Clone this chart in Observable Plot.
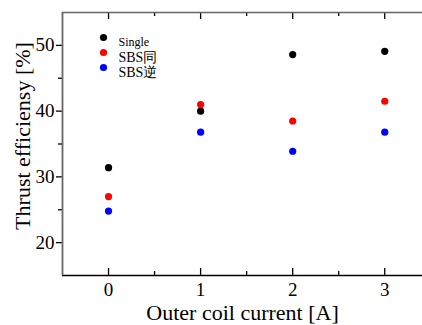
<!DOCTYPE html>
<html><head><meta charset="utf-8">
<script src="https://cdn.jsdelivr.net/npm/d3@7"></script>
<script src="https://cdn.jsdelivr.net/npm/@observablehq/plot@0.6"></script>
<style>body{margin:0;background:#fff}</style>
</head><body><div id="chart"></div>
<script>
const currents = [0, 1, 2, 3];
const seriesNames = ["Single", "SBS同", "SBS逆"];
const single = [31.4, 40.0, 48.6, 49.1];
const sbsSame = [27.0, 41.0, 38.5, 41.5];
const sbsReverse = [24.8, 36.8, 33.9, 36.8];
const seriesColors = ["#000000", "#ff0000", "#0000ff"];
const xMajor = [0, 1, 2, 3];
const xMinor = [0.5, 1.5, 2.5];
const yMajor = [20, 30, 40, 50];
const yMinor = [25, 35, 45];
const xLabel = "Outer coil current [A]";
const yLabel = "Thrust efficiensy [%]";

const values = [single, sbsSame, sbsReverse];
const data = [];
seriesNames.forEach((s, i) => currents.forEach((c, j) => data.push({series: s, x: c, y: values[i][j]})));

const W = 422, H = 325, mL = 62, mT = 12, mB = 50, mR = 0;
const xDom = [-0.5, 3.41], yDom = [15, 55];
const fw = W - mL - mR, fh = H - mT - mB;
const ux = (xDom[1] - xDom[0]) / fw;  // data units per pixel
const uy = (yDom[1] - yDom[0]) / fh;
const font = "'Liberation Serif', 'Times New Roman', serif";
const legendMarks = seriesNames.flatMap((s, i) => [
  Plot.dot([s], {frameAnchor: "top-left", dx: 41, dy: 25 + 15 * i, r: 3.6, fill: seriesColors[i]}),
  Plot.text([s], {frameAnchor: "top-left", dx: 56, dy: 25 + 15 * i, text: d => d, textAnchor: "start",
    fontSize: i === 0 ? 12 : 14, fill: "#000", fontFamily: font})
]);
const tickStyle = {stroke: "#000", strokeWidth: 1.3};

const chart = Plot.plot({
  width: W, height: H,
  marginLeft: mL, marginTop: mT, marginBottom: mB, marginRight: mR,
  style: {fontFamily: font, background: "#fff", color: "#000"},
  x: {domain: xDom},
  y: {domain: yDom},
  color: {domain: seriesNames, range: seriesColors},
  marks: [
    Plot.axisX({anchor: "bottom", ticks: xMajor, tickSize: 0, tickPadding: 7, fontSize: 19,
      tickFormat: d => String(d), label: null}),
    Plot.axisY({anchor: "left", ticks: yMajor, tickSize: 0, tickPadding: 8, fontSize: 19,
      label: null}),
    // inward ticks on bottom and top, outward ticks on left
    Plot.ruleX(xMajor, {y1: yDom[0], y2: yDom[0] + 7 * uy, ...tickStyle}),
    Plot.ruleX(xMinor, {y1: yDom[0], y2: yDom[0] + 4 * uy, ...tickStyle}),
    Plot.ruleX(xMajor, {y1: yDom[1], y2: yDom[1] - 7 * uy, ...tickStyle}),
    Plot.ruleX(xMinor, {y1: yDom[1], y2: yDom[1] - 4 * uy, ...tickStyle}),
    Plot.ruleY(yMajor, {x1: xDom[0] - 6 * ux, x2: xDom[0], ...tickStyle}),
    Plot.ruleY(yMinor, {x1: xDom[0] - 4 * ux, x2: xDom[0], ...tickStyle}),
    Plot.ruleY([15], {stroke: "#000", strokeWidth: 1.5}),
    Plot.ruleY([55], {stroke: "#666", strokeWidth: 1.5}),
    Plot.ruleX([-0.5], {stroke: "#666", strokeWidth: 1.8}),
    Plot.dot(data, {x: "x", y: "y", fill: "series", r: 3.6}),
    ...legendMarks,
    Plot.text([xLabel], {frameAnchor: "bottom", dy: 37, text: d => d, fontSize: 22, fill: "#000", fontFamily: font, lineAnchor: "middle"}),
    Plot.text([yLabel], {frameAnchor: "left", dx: -40, dy: -8, rotate: -90, textAnchor: "middle", text: d => d, fontSize: 22, fill: "#000", fontFamily: font})
  ]
});
document.getElementById("chart").append(chart);
</script>
</body></html>
